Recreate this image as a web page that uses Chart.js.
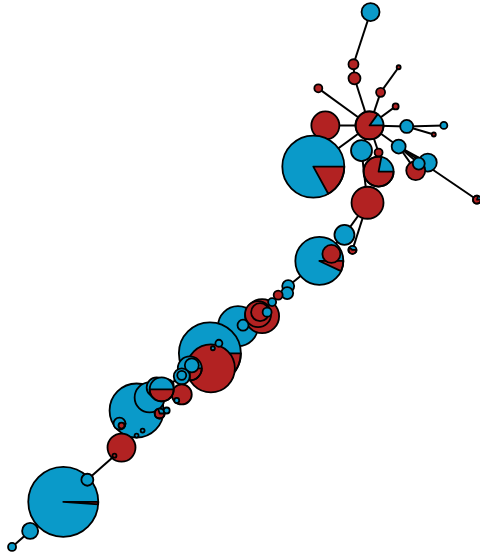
<!DOCTYPE html>
<html>
<head>
<meta charset="utf-8">
<script src="https://cdn.jsdelivr.net/npm/chart.js@4.4.0/dist/chart.umd.min.js"></script>
<style>
    html, body { margin: 0; padding: 0; background: #fff; }
    #wrap { width: 480px; height: 554px; }
</style>
</head>
<body>
<div id="wrap"><canvas id="myChart" width="480" height="554"></canvas></div>
<script>
// node positions (data units = px of the 480x554 frame), radius, share of red
var nodeX = [370, 353, 354, 398, 318, 380, 395, 325, 369, 406, 443, 433, 313, 361, 378, 378, 398, 427, 415, 418, 476, 367, 344, 352, 319, 331,
    288, 287, 278, 238, 262, 258, 260, 272, 267, 243, 210, 211, 219, 213,
    137, 150, 157, 190, 192, 182, 182, 168, 182, 162, 177,
    160, 167, 120, 122, 143, 137, 122, 115, 64, 88, 31, 13];
var nodeY = [13, 65, 79, 68, 89, 93, 107, 126, 126, 127, 126, 135, 167, 151, 153, 172, 147, 163, 171, 164, 200, 203, 235, 250, 261, 254,
    286, 293, 295, 326, 316, 314, 312, 302, 312, 325, 353, 368, 343, 348,
    410, 397, 387, 368, 365, 376, 375, 385, 394, 389, 400,
    413, 410, 423, 425, 430, 435, 447, 455, 501, 479, 530, 546];
var nodeR = [9, 5, 6, 2, 4, 4.5, 3, 14, 14, 6.5, 3.5, 2, 31, 10.5, 4, 15, 7, 9, 9.5, 6, 4, 16, 10, 4, 24, 9,
    6, 6, 4.5, 20, 17, 13, 9, 4, 4.5, 5.5, 31, 24, 3.5, 2,
    27, 15, 10, 12, 7, 8, 4.5, 6, 10, 12, 2.5,
    5, 3, 6, 3, 2, 2, 14, 2, 35, 6, 8, 4];
var nodeRed = [0, 1, 1, 1, 1, 1, 1, 1, 0.85, 0, 0, 1, 0.17, 0, 1, 0.78, 0, 0, 1, 0, 0.8, 1, 0, 0.6, 0.07, 1,
    0, 0, 1, 0, 1, 1, 1, 0, 0, 0, 0.1, 1, 0, 0,
    0, 0, 0, 0.25, 0, 0, 0, 0, 1, 0.5, 0,
    0.7, 0, 0.15, 1, 0, 0, 1, 1, 0.012, 0, 0, 0];
var edgeFrom = [0, 1, 2, 3, 5, 4, 6, 7, 8, 9, 9, 8, 8, 8, 8, 14, 16, 16, 16, 16, 13, 21, 21, 22, 24, 26, 27, 28, 33, 34, 30, 29, 29, 36, 36, 37, 43, 45, 47, 49, 40, 40, 57, 58, 60, 59, 61];
var edgeTo   = [1, 2, 8, 5, 8, 8, 8, 8, 9, 10, 11, 12, 13, 14, 16, 15, 17, 18, 19, 20, 21, 22, 23, 24, 26, 27, 28, 33, 34, 30, 29, 35, 36, 37, 38, 43, 45, 47, 49, 40, 53, 57, 58, 60, 59, 61, 62];

var BLUE = '#0a9ac9';
var RED = '#b22222';
var EDGE_W = 2;

var datasets = [];
// node centres only; the pies are painted by the plugin below
datasets.push({
    type: 'bubble',
    label: 'nodes',
    data: nodeX.map(function (x, i) { return { x: x, y: nodeY[i], r: 0 }; }),
    backgroundColor: 'rgba(0,0,0,0)',
    borderWidth: 0,
    hoverRadius: 0
});
for (var e = 0; e < edgeFrom.length; e++) {
    var a = edgeFrom[e], b = edgeTo[e];
    datasets.push({
        type: 'scatter',
        showLine: true,
        data: [{ x: nodeX[a], y: nodeY[a] }, { x: nodeX[b], y: nodeY[b] }],
        borderColor: '#000',
        borderWidth: EDGE_W,
        pointRadius: 0,
        order: 5
    });
}

var piePlugin = {
    id: 'pies',
    afterDatasetsDraw: function (chart) {
        var ctx = chart.ctx;
        var meta = chart.getDatasetMeta(0);
        ctx.save();
        ctx.lineWidth = 1.8;
        ctx.strokeStyle = '#000';
        ctx.lineJoin = 'round';
        meta.data.forEach(function (el, i) {
            var r = nodeR[i], f = nodeRed[i];
            var cx = el.x, cy = el.y;
            if (f <= 0 || f >= 1) {
                ctx.beginPath();
                ctx.arc(cx, cy, r, 0, Math.PI * 2);
                ctx.fillStyle = f >= 1 ? RED : BLUE;
                ctx.fill();
                ctx.stroke();
                return;
            }
            var cut = Math.PI * 2 * f;
            ctx.beginPath();
            ctx.moveTo(cx, cy);
            ctx.arc(cx, cy, r, cut, Math.PI * 2);
            ctx.closePath();
            ctx.fillStyle = BLUE;
            ctx.fill();
            ctx.beginPath();
            ctx.moveTo(cx, cy);
            ctx.arc(cx, cy, r, 0, cut);
            ctx.closePath();
            ctx.fillStyle = RED;
            ctx.fill();
            ctx.stroke();
            ctx.beginPath();
            ctx.arc(cx, cy, r, 0, Math.PI * 2);
            ctx.stroke();
        });
        ctx.restore();
    }
};

// line datasets push the chart area in by half the line width,
// so the axis range is shrunk by the same amount to keep 1 unit = 1 px
var inset = EDGE_W / 2;
var ctx = document.getElementById('myChart').getContext('2d');
var chart = new Chart(ctx, {
    type: 'bubble',
    data: { datasets: datasets },
    options: {
        responsive: false,
        animation: false,
        events: [],
        layout: { padding: 0 },
        plugins: {
            legend: { display: false },
            tooltip: { enabled: false }
        },
        scales: {
            x: { type: 'linear', min: inset, max: 480 - inset, display: false },
            y: { type: 'linear', min: inset, max: 554 - inset, reverse: true, display: false }
        }
    },
    plugins: [piePlugin]
});
</script>
</body>
</html>
